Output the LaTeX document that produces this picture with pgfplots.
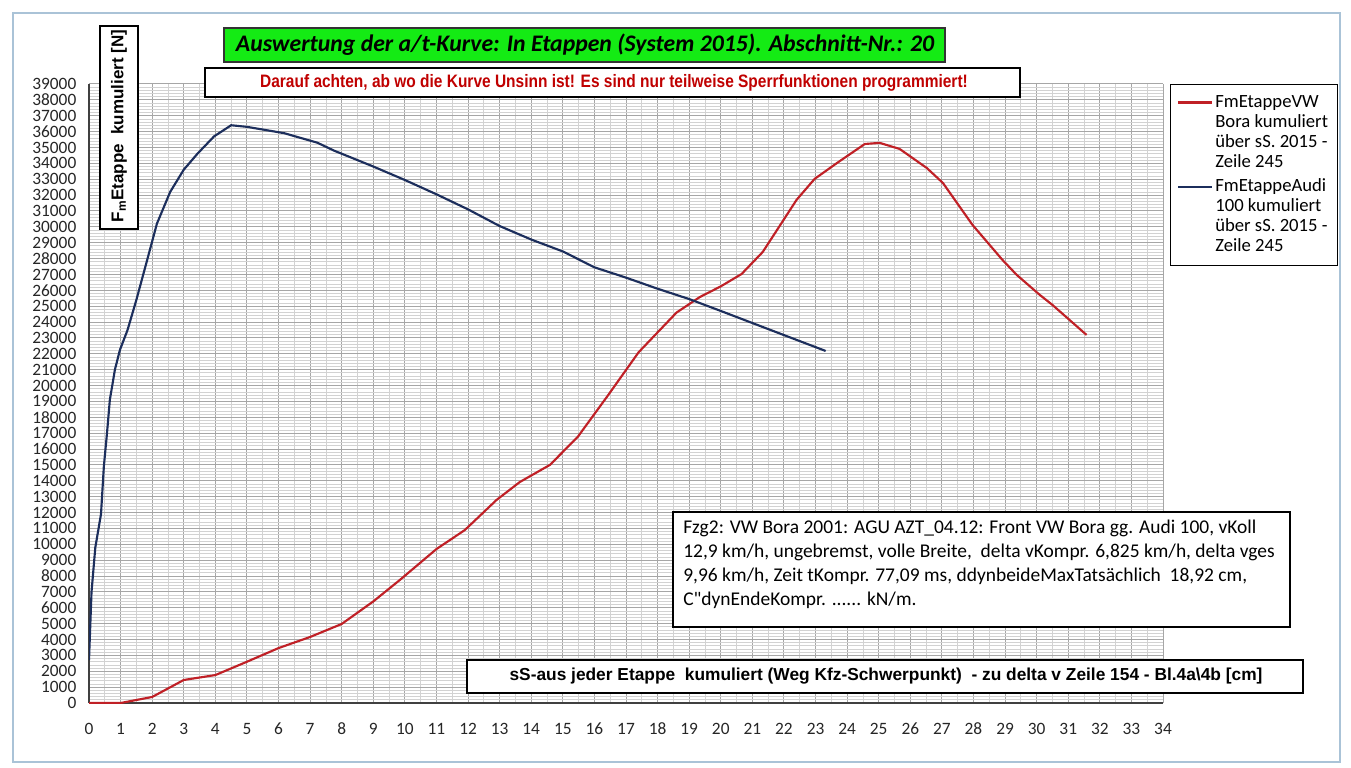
\documentclass[border=0pt]{standalone}
\usepackage{pgfplots}
\pgfplotsset{compat=1.18}
\usepackage{fontspec}
\setmainfont{Carlito}
\newfontfamily\annofont[Ligatures=TeXOff]{Carlito}
\newfontfamily\arialfont{Liberation Sans}
\newfontfamily\narrowfont[FakeStretch=0.86]{Liberation Sans}
\definecolor{vwred}{RGB}{192,32,38}
\definecolor{audiblue}{RGB}{28,46,92}
\definecolor{titlegreen}{RGB}{20,235,20}
\definecolor{subred}{RGB}{192,0,0}
\definecolor{framecol}{RGB}{170,195,215}

\pgfplotstableread{
x y
0 0
1 0
2 380
3 1450
4 1760
5 2600
6 3460
7 4160
8 4980
9 6400
9.84 7750
11 9700
11.9 10900
12.9 12790
13.64 13925
14.59 15000
15.47 16760
16.4 19300
17.4 22100
18 23350
18.6 24600
19.34 25580
20 26250
20.66 27030
21.33 28420
22.4 31700
22.97 33020
23.7 34050
24.56 35220
25.03 35290
25.66 34910
26.52 33710
27.03 32770
27.97 30120
28.92 27910
29.37 26970
30.1 25710
30.5 25080
31.58 23190
}\vwdata

\pgfplotstableread{
x y
0 2700
0.08 7000
0.2 9800
0.38 11900
0.47 14900
0.57 17000
0.66 19100
0.82 21000
0.98 22250
1.22 23500
1.5 25400
1.84 27900
2.15 30200
2.57 32200
3.0 33600
3.43 34600
3.96 35700
4.5 36400
5.0 36300
6.18 35900
7.23 35300
7.76 34800
9.0 33800
10 32950
11 32050
12 31100
13 30050
14 29200
15 28450
16 27450
17 26800
18 26100
19 25450
20 24700
21 23940
22 23180
23.32 22180
}\audidata

\begin{document}
\begin{tikzpicture}[x=0.75pt,y=0.75pt]
\path[use as bounding box] (0,0) rectangle (1351,767);
\fill[white] (0,0) rectangle (1351,767);
\draw[framecol, line width=0.9pt] (13,5) rectangle (1340,754);
\begin{axis}[
  at={(66.75pt,48pt)}, anchor=south west, scale only axis,
  width=805.5pt, height=464.25pt,
  xmin=0, xmax=34, ymin=0, ymax=39000,
  xtick={0,1,...,34}, ytick={0,1000,...,39000},
  minor x tick num=1, minor y tick num=4,
  grid=both,
  major grid style={draw=gray!70, line width=0.75pt},
  minor grid style={draw=gray!35, line width=0.6pt},
  axis x line*=bottom, axis y line*=left,
  axis line style={draw=black!75, line width=1pt},
  major tick length=0pt, minor tick length=0pt,
  scaled y ticks=false, scaled x ticks=false,
  /pgf/number format/assume math mode=true,
  /pgf/number format/1000 sep={},
  tick label style={font=\fontsize{13}{13}\selectfont, text=black!85},
  xticklabel style={yshift=-11.5pt},
  yticklabel style={xshift=-6pt},
  legend style={at={(1.0065,1.0)}, anchor=north west, draw=black, line width=0.8pt,
    fill=white, font=\fontsize{14}{15}\selectfont, row sep=0pt,
    inner xsep=5pt, inner ysep=6pt, cells={anchor=west},
    nodes={inner xsep=2pt, inner ysep=0pt, text height=11pt, text depth=4pt}},
  legend image code/.code={\draw[#1,line width=1.6pt] (0pt,0pt) -- (25pt,0pt);},
]
\addplot[vwred, line width=1.6pt] table[x=x,y=y] {\vwdata};
\addlegendentry{FmEtappeVW}
\addlegendimage{empty legend}\addlegendentry{Bora kumuliert}
\addlegendimage{empty legend}\addlegendentry{über sS. 2015 -}
\addlegendimage{empty legend}\addlegendentry[text depth=7.5pt]{Zeile 245}
\addplot[audiblue, line width=1.6pt] table[x=x,y=y] {\audidata};
\addlegendentry{FmEtappeAudi}
\addlegendimage{empty legend}\addlegendentry{100 kumuliert}
\addlegendimage{empty legend}\addlegendentry{über sS. 2015 -}
\addlegendimage{empty legend}\addlegendentry{Zeile 245}
\end{axis}

% title
\draw[black!80, line width=0.9pt, fill=titlegreen] (224,739) rectangle (945,705);
\node[font=\fontsize{17.8}{19}\selectfont\bfseries\itshape] at (585,722)
  {Auswertung der a/t-Kurve: In Etappen (System 2015). Abschnitt-Nr.: 20};
% subtitle
\draw[black, line width=0.9pt, fill=white] (205,699) rectangle (1020,670);
\node[font=\narrowfont\fontsize{13.5}{14}\selectfont\bfseries, text=subred] at (614,684)
  {Darauf achten, ab wo die Kurve Unsinn ist! Es sind nur teilweise Sperrfunktionen programmiert!};
% y label
\draw[black, line width=0.9pt, fill=white] (100,741) rectangle (138,538);
\node[rotate=90, font=\arialfont\fontsize{12.75}{14}\selectfont\bfseries] at (119,641)
  {F\textsubscript{m}Etappe\ \ kumuliert [N]};
% annotation
\draw[black, line width=0.9pt, fill=white] (673,255) rectangle (1290,140);
\node[anchor=north west, align=left, font=\annofont\fontsize{14.6}{18}\selectfont, inner sep=0pt] at (683,247)
  {Fzg2: VW Bora 2001: AGU AZT\_04.12: Front VW Bora gg. Audi 100, vKoll\\
   12,9 km/h, ungebremst, volle Breite,\ \ delta vKompr. 6,825 km/h, delta vges\\
   9,96 km/h, Zeit tKompr. 77,09 ms, ddynbeideMaxTatsächlich\ \ 18,92 cm,\\
   C"dynEndeKompr. ...... kN/m.};
% x label
\draw[black, line width=0.9pt, fill=white] (467,107) rectangle (1303,74);
\node[font=\arialfont\fontsize{13}{15}\selectfont\bfseries] at (886,90.5)
  {sS-aus jeder Etappe\ \ kumuliert (Weg Kfz-Schwerpunkt)\ \ - zu delta v Zeile 154 - Bl.4a\textbackslash 4b [cm]};
\end{tikzpicture}
\end{document}
